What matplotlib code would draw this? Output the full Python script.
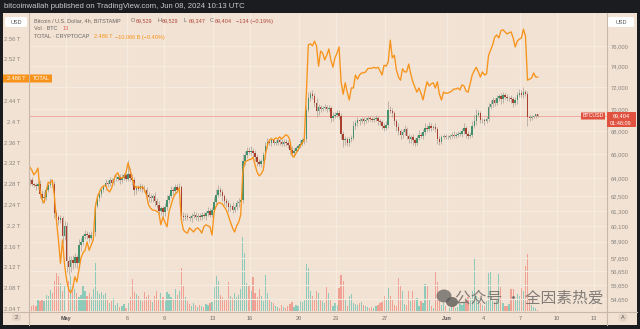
import numpy as np
import matplotlib.pyplot as plt
from matplotlib.patches import Rectangle, FancyBboxPatch, Ellipse
from matplotlib.lines import Line2D

plt.rcParams['font.family'] = ['Liberation Sans', 'DejaVu Sans']

W, H = 640, 329

# BTC/USD 4h closes, one row per day from Apr 28 to Jun 8
btc_close = [
    63800, 63500, 63400, 63300, 63500, 62700,
    62300, 62400, 63000, 63400, 63700, 63500,
    61100, 60800, 60600, 60700, 59300, 60100,
    57400, 57000, 57500, 57300, 57700, 57300,
    58600, 58900, 59300, 59500, 59400, 59200,
    59400, 59600, 61700, 62300, 62700, 63000,
    63200, 63600, 63500, 63800, 63600, 63900,
    63900, 64100, 63800, 64000, 64200, 63900,
    64300, 64000, 63800, 63000, 63200, 63100,
    63300, 63100, 63000, 62600, 62400, 62300,
    62500, 62100, 61800, 61300, 61500, 61200,
    61600, 62200, 62500, 63000, 62900, 63200,
    63000, 63200, 60900, 60800, 60900, 60800,
    60700, 60900, 61000, 60800, 60900, 60800,
    61000, 60900, 61100, 61300, 61000, 61400,
    62000, 62600, 63000, 62800, 62500, 62100,
    61900, 61600, 61700, 61400, 61600, 61900,
    62000, 62200, 65400, 65900, 66300, 66200,
    66300, 66100, 65800, 65300, 65200, 65400,
    65900, 66700, 67100, 67000, 67200, 67000,
    67000, 67200, 67100, 66900, 67100, 67000,
    66800, 66400, 66100, 66300, 66500, 66700,
    66900, 67200, 67300, 69900, 71000, 71400,
    71200, 70600, 69800, 70200, 70000, 70100,
    70200, 70000, 70100, 69200, 69400, 69500,
    69600, 69400, 67800, 67200, 67300, 67000,
    67300, 67400, 68500, 68700, 69000, 68900,
    69100, 68900, 69000, 69200, 69100, 69000,
    69100, 69200, 68900, 68800, 68500, 68300,
    68600, 69900, 69800, 69600, 68900, 68400,
    68000, 67700, 67900, 68200, 67600, 67300,
    67500, 67200, 67000, 67400, 67700, 67600,
    67900, 68300, 68200, 68500, 68300, 68400,
    68200, 67300, 67100, 67500, 67600, 67500,
    67500, 67600, 67700, 67600, 67700, 67800,
    67800, 68000, 68300, 67800, 67600, 67700,
    68500, 68900, 69500, 69600, 69000, 69000,
    68900, 69100, 70200, 70500, 70800, 70600,
    71000, 71200, 70900, 71300, 71100, 71000,
    71000, 70900, 70600, 70800, 71300, 71500,
    71300, 71600, 71400, 69300, 69200, 69300,
    69350, 69529, 69404,
]
first_open = 63600

# wick lengths above / below the body, in hundreds of USD
wick_up = [
    2, 3, 1, 2, 2, 3,  3, 4, 2, 2, 3, 2,  2, 3, 2, 3, 2, 4,  3, 4, 3, 4, 3, 2,
    5, 3, 2, 3, 2, 2,  3, 2, 3, 4, 3, 2,  2, 3, 2, 3, 2, 3,  3, 2, 2, 3, 2, 2,
    12, 5, 3, 3, 2, 2, 3, 2, 3, 2, 2, 3,  2, 3, 2, 3, 2, 2,  3, 4, 2, 3, 2, 3,
    3, 4, 2, 3, 2, 2,  2, 2, 3, 2, 2, 2,  2, 2, 2, 3, 2, 2,  4, 5, 4, 2, 3, 2,
    2, 3, 2, 3, 2, 3,  3, 4, 6, 4, 3, 3,  4, 2, 3, 2, 3, 2,  3, 4, 3, 2, 3, 2,
    2, 3, 2, 2, 2, 2,  2, 2, 3, 2, 2, 2,  3, 2, 2, 4, 6, 3,  4, 3, 4, 3, 2, 2,
    3, 2, 3, 2, 3, 2,  3, 3, 2, 2, 3, 2,  2, 3, 4, 3, 3, 2,  2, 2, 3, 2, 2, 2,
    2, 3, 2, 2, 2, 2,  3, 8, 4, 3, 2, 2,  3, 2, 3, 4, 2, 2,  2, 3, 2, 3, 4, 2,
    3, 4, 3, 3, 2, 2,  3, 2, 3, 2, 2, 2,  2, 2, 2, 3, 2, 2,  2, 3, 4, 2, 2, 2,
    4, 6, 5, 3, 2, 2,  2, 3, 4, 3, 3, 2,  3, 2, 3, 3, 2, 3,  2, 3, 2, 3, 3, 4,
    3, 4, 2, 3, 2, 2,  0, 0, 0,
]
wick_dn = [
    2, 2, 2, 3, 2, 4,  4, 3, 2, 2, 2, 3,  4, 3, 4, 3, 5, 3,  8, 6, 4, 5, 3, 4,
    3, 4, 3, 2, 3, 3,  2, 3, 3, 2, 2, 3,  2, 2, 3, 2, 2, 2,  2, 2, 3, 2, 2, 2,
    2, 3, 4, 4, 3, 2,  2, 3, 2, 3, 4, 3,  3, 4, 3, 5, 3, 4,  3, 2, 3, 2, 3, 2,
    2, 2, 4, 3, 2, 2,  2, 3, 2, 2, 3, 2,  2, 2, 3, 2, 2, 2,  2, 3, 2, 3, 4, 3,
    3, 4, 3, 3, 2, 2,  3, 2, 3, 3, 2, 2,  3, 3, 4, 3, 2, 3,  2, 3, 2, 2, 3, 2,
    2, 2, 3, 2, 2, 3,  3, 4, 3, 2, 2, 2,  2, 2, 3, 2, 2, 3,  3, 4, 5, 3, 3, 2,
    2, 3, 2, 4, 3, 2,  2, 3, 5, 6, 4, 3,  3, 2, 2, 3, 2, 3,  2, 3, 2, 2, 2, 2,
    2, 2, 3, 2, 3, 3,  2, 3, 2, 3, 3, 4,  3, 4, 3, 2, 3, 3,  3, 4, 3, 2, 2, 2,
    3, 2, 3, 2, 3, 2,  3, 4, 3, 2, 2, 2,  2, 2, 2, 2, 2, 2,  2, 3, 2, 4, 3, 2,
    2, 2, 3, 2, 3, 3,  3, 2, 2, 2, 3, 3,  2, 3, 4, 3, 2, 3,  3, 3, 4, 2, 3, 2,
    2, 3, 2, 8, 3, 2,  1, 2, 1,
]

# Bitstamp volume per 4h candle (BTC)
volume = [
    150, 125, 150, 125, 275, 250,  300, 250, 400, 375, 525, 450,
    750, 950, 875, 700, 500, 625,  1050, 750, 875, 625, 550, 450,
    350, 400, 650, 500, 375, 450,  350, 550, 1200, 500, 425, 475,
    400, 450, 300, 200, 250, 325,  150, 200, 100, 125, 175, 75,
    200, 350, 800, 475, 425, 375,  300, 250, 475, 350, 400, 275,
    225, 375, 500, 300, 450, 350,  250, 475, 425, 350, 300, 550,
    400, 500, 1075, 650, 350, 250,  175, 125, 200, 150, 100, 150,
    125, 100, 175, 150, 200, 225,  600, 875, 750, 400, 350, 300,
    275, 725, 375, 325, 450, 350,  400, 550, 1850, 1450, 700, 625,
    500, 850, 450, 350, 550, 375,  250, 900, 450, 300, 225, 200,
    125, 100, 75, 150, 100, 75,  125, 175, 225, 100, 150, 125,
    250, 225, 275, 1175, 1075, 500,  375, 300, 500, 450, 300, 250,
    200, 600, 450, 300, 125, 200,  150, 575, 900, 750, 300, 125,
    375, 425, 200, 175, 150, 200,  225, 150, 125, 100, 75, 100,
    75, 125, 150, 200, 225, 375,  300, 575, 375, 300, 150, 125,
    825, 650, 500, 175, 150, 500,  250, 500, 300, 325, 125, 250,
    200, 675, 650, 300, 125, 75,  1000, 725, 250, 150, 200, 125,
    100, 75, 100, 125, 75, 100,  175, 150, 200, 300, 350, 325,
    500, 1325, 375, 325, 200, 150,  125, 250, 950, 975, 250, 225,
    300, 925, 600, 200, 125, 125,  175, 550, 550, 300, 425, 375,
    575, 500, 1125, 1425, 300, 150,  100, 75, 13,
]

# TOTAL crypto market cap (trillion USD), same 4h steps
total_cap = [
    2.313, 2.307, 2.298, 2.303, 2.311, 2.269,  2.250, 2.244, 2.265, 2.284, 2.282, 2.288,
    2.259, 2.211, 2.173, 2.128, 2.173, 2.125,  2.096, 2.077, 2.071, 2.080, 2.102, 2.092,
    2.115, 2.138, 2.148, 2.153, 2.169, 2.153,  2.163, 2.173, 2.236, 2.255, 2.265, 2.273,
    2.277, 2.278, 2.269, 2.265, 2.273, 2.288,  2.298, 2.302, 2.292, 2.292, 2.294, 2.303,
    2.321, 2.307, 2.292, 2.278, 2.273, 2.275,  2.273, 2.275, 2.269, 2.259, 2.240, 2.234,
    2.230, 2.230, 2.228, 2.225, 2.202, 2.217,  2.207, 2.198, 2.227, 2.240, 2.253, 2.261,
    2.265, 2.273, 2.211, 2.192, 2.188, 2.186,  2.196, 2.192, 2.188, 2.194, 2.196, 2.192,
    2.186, 2.198, 2.202, 2.200, 2.198, 2.182,  2.227, 2.238, 2.244, 2.244, 2.242, 2.236,
    2.230, 2.219, 2.207, 2.196, 2.188, 2.200,  2.207, 2.221, 2.303, 2.323, 2.325, 2.327,
    2.328, 2.332, 2.317, 2.303, 2.296, 2.300,  2.307, 2.336, 2.355, 2.365, 2.367, 2.365,
    2.369, 2.367, 2.371, 2.367, 2.371, 2.375,  2.373, 2.365, 2.336, 2.332, 2.340, 2.346,
    2.353, 2.359, 2.365, 2.452, 2.548, 2.550,  2.546, 2.555, 2.546, 2.507, 2.536, 2.532,
    2.519, 2.528, 2.540, 2.519, 2.505, 2.523,  2.532, 2.544, 2.477, 2.453, 2.475, 2.457,
    2.442, 2.465, 2.465, 2.490, 2.482, 2.490,  2.494, 2.494, 2.496, 2.502, 2.503, 2.503,
    2.505, 2.503, 2.505, 2.498, 2.490, 2.509,  2.507, 2.515, 2.557, 2.523, 2.528, 2.500,
    2.486, 2.480, 2.502, 2.496, 2.496, 2.511,  2.492, 2.477, 2.467, 2.457, 2.465, 2.455,
    2.442, 2.461, 2.477, 2.469, 2.473, 2.475,  2.465, 2.477, 2.453, 2.442, 2.457, 2.455,
    2.455, 2.457, 2.459, 2.463, 2.463, 2.465,  2.461, 2.471, 2.469, 2.459, 2.457, 2.473,
    2.490, 2.498, 2.505, 2.496, 2.486, 2.496,  2.490, 2.492, 2.528, 2.538, 2.548, 2.563,
    2.567, 2.561, 2.575, 2.577, 2.573, 2.569,  2.571, 2.573, 2.561, 2.544, 2.555, 2.559,
    2.561, 2.578, 2.565, 2.480, 2.482, 2.484,  2.494, 2.486, 2.486,
]

date_ticks = [0, 5, 8, 12, 15, 19, 22, 26, 31, 34, 37, 40, 43]
date_labels = ['May', '6', '9', '13', '16', '20', '23', '27', 'Jun', '4', '7', '10', '13']
btc_ticks = [76000, 74000, 72000, 70000, 68000, 66000, 64000, 62500, 61300,
             60100, 58900, 57650, 56650, 55650, 54650]
total_ticks = [2.04, 2.08, 2.12, 2.16, 2.2, 2.24, 2.28, 2.32, 2.36, 2.4, 2.44, 2.52, 2.56]

BG = '#f2e2d3'
DARK = '#1b1c20'
UP, DOWN = '#44926d', '#a9402f'
VUP, VDOWN = '#8ecab9', '#f0a194'
ORANGE = '#f7931a'
RED = '#e0523f'
GRID = '#f6ebe1'
SEP = '#c9b8aa'
LBL = '#8a8580'
FS = 4.0

close = np.array(btc_close, dtype=float)
opn = np.concatenate([[first_open], close[:-1]])
n = len(close)
t = -3 + np.arange(n) / 6 + 1 / 12      # days from May 1, candle centres
high = np.maximum(opn, close) + np.array(wick_up[:n]) * 100
low = np.minimum(opn, close) - np.array(wick_dn[:n]) * 100
rising = close >= opn


def fx(x):
    return x / W


def fy(y):
    return 1 - y / H


fig = plt.figure(figsize=(W / 100, H / 100), dpi=100, facecolor=DARK)
fig.patches.append(Rectangle((fx(3), fy(325)), fx(634), 312 / H,
                             transform=fig.transFigure, facecolor=BG, edgecolor='none', zorder=-5))

rect = [fx(29), fy(311), 578 / W, 298 / H]
ax_vol = fig.add_axes(rect)
ax = ax_vol.twinx()
ax_tot = ax_vol.twinx()
ax_vol.set_zorder(0)
ax.set_zorder(1)
ax_tot.set_zorder(2)
ax_vol.set_facecolor(BG)
ax.patch.set_visible(False)
ax_tot.patch.set_visible(False)
for a in (ax_vol, ax, ax_tot):
    for s in a.spines.values():
        s.set_visible(False)

xlim = ((29 - 65.6) / 12.29, (607 - 65.6) / 12.29)

# volume
ax_vol.bar(t, volume[:n], width=0.1, color=np.where(rising, VUP, VDOWN), linewidth=0)
ax_vol.set_ylim(0, 298 * 25)
ax_vol.set_xlim(*xlim)
ax_vol.set_yticks([])
ax_vol.set_xticks(date_ticks)
ax_vol.set_xticklabels(date_labels)
ax_vol.tick_params(axis='x', length=0, pad=3.5, labelsize=FS, labelcolor='#6f6a66')
for lab in ax_vol.get_xticklabels():
    if lab.get_text() in ('May', 'Jun'):
        lab.set_fontweight('bold')
        lab.set_color('#555050')
ax_vol.grid(axis='x', color=GRID, linewidth=0.9)

# BTC candles
ax.set_yscale('log')
ax.set_ylim(76000 * np.exp(-265 / 767), 76000 * np.exp(33 / 767))
ax.set_xlim(*xlim)
for v in btc_ticks:
    ax.axhline(v, color=GRID, linewidth=0.8, zorder=0)
ax.vlines(t, low, high, color='#a59c93', linewidth=0.6, alpha=0.8, zorder=2)
ax.bar(t, np.maximum(np.abs(close - opn), 25), bottom=np.minimum(opn, close), width=0.12,
       color=np.where(rising, UP, DOWN), linewidth=0, zorder=3)
ax.axhline(close[-1], color='#e8897c', linewidth=0.7, alpha=0.6, zorder=1)
ax.yaxis.set_major_locator(plt.FixedLocator(btc_ticks))
ax.yaxis.set_minor_locator(plt.NullLocator())
ax.set_yticklabels([f'{v:,}' for v in btc_ticks])
ax.tick_params(axis='y', length=0, pad=3, labelsize=FS + 0.2, labelcolor=LBL)

# TOTAL line
ax_tot.plot(t, total_cap[:n], color=ORANGE, linewidth=0.95, zorder=4)
ax_tot.set_ylim(2.04 - 2 * 0.04 / 20.8, 2.04 + 296 * 0.04 / 20.8)
ax_tot.set_xlim(*xlim)
ax_tot.yaxis.tick_left()
ax_tot.set_yticks(total_ticks)
ax_tot.set_yticklabels([f'{v:g} T' for v in total_ticks])
ax_tot.tick_params(axis='y', length=0, pad=6, labelsize=FS + 0.2, labelcolor=LBL)

# separators
for x in (29, 607):
    fig.lines.append(Line2D([fx(x), fx(x)], [fy(13), fy(325)], transform=fig.transFigure,
                            color=SEP, linewidth=0.8))
fig.lines.append(Line2D([fx(3), fx(637)], [fy(311.5), fy(311.5)], transform=fig.transFigure,
                        color=SEP, linewidth=0.8))


def box(x0, y0, x1, y1, color, text_lines=(), tcolor='white', size=4.0, rnd=0.0):
    fig.patches.append(FancyBboxPatch((fx(x0), fy(y1)), (x1 - x0) / W, (y1 - y0) / H,
                                      boxstyle=f'round,pad=0,rounding_size={rnd}',
                                      transform=fig.transFigure, facecolor=color,
                                      edgecolor='none', zorder=5))
    for (tx, ty, s) in text_lines:
        fig.text(fx(tx), fy(ty), s, color=tcolor, fontsize=size, ha='center', va='center', zorder=6)


# header
fig.text(fx(4), fy(6.5), 'bitcoinwallah published on TradingView.com, Jun 08, 2024 10:13 UTC',
         color='#c9c9c9', fontsize=5.6, va='center')

# legend lines
legend_y = [21, 29, 37]
GREY_T = '#6b6560'
fig.text(fx(34), fy(legend_y[0]), 'Bitcoin / U.S. Dollar, 4h, BITSTAMP', color=GREY_T, fontsize=FS, va='center')
for x, k, val in [(131, 'O', '69,529'), (157, 'H', '69,529'), (184, 'L', '69,347'), (210, 'C', '69,404')]:
    fig.text(fx(x), fy(legend_y[0]), k, color=GREY_T, fontsize=FS, va='center')
    fig.text(fx(x + 4.6), fy(legend_y[0]), val, color='#b0473a', fontsize=FS, va='center')
fig.text(fx(236), fy(legend_y[0]), '\u2212134 (\u22120.19%)', color='#b0473a', fontsize=FS, va='center')
fig.text(fx(34), fy(legend_y[1]), 'Vol \u00b7 BTC', color=GREY_T, fontsize=FS, va='center')
fig.text(fx(63), fy(legend_y[1]), '13', color='#e0605a', fontsize=FS, va='center')
fig.text(fx(34), fy(legend_y[2]), 'TOTAL \u00b7 CRYPTOCAP', color=GREY_T, fontsize=FS, va='center')
fig.text(fx(94), fy(legend_y[2]), '2.486 T', color=ORANGE, fontsize=FS, va='center')
fig.text(fx(115), fy(legend_y[2]), '\u221210.066 B (\u22120.40%)', color=ORANGE, fontsize=FS, va='center')

# axis boxes
box(5, 17, 27, 27, 'white', [(16, 22, 'USD')], tcolor='#555555', size=4.0, rnd=0.004)
box(608, 17, 634, 27, 'white', [(621, 22, 'USD')], tcolor='#555555', size=4.0, rnd=0.004)
box(3, 74.5, 29, 82.5, ORANGE, [(16, 78.5, '2.486 T')], size=4.0)
box(30, 74.5, 52, 82.5, ORANGE, [(41, 78.5, 'TOTAL')], size=4.0)
box(581, 112.5, 605, 119.5, RED, [(593, 116, 'BTCUSD')], size=3.8)
box(607, 112, 636, 127, RED, [(621, 116, '69,404'), (621, 123, '01:46:09')], size=4.0)
box(12, 314, 21, 321, '#e4d4c6', [(16.5, 317.5, '2')], tcolor='#555555', size=4.0, rnd=0.006)
fig.patches.append(Ellipse((fx(623), fy(317.5)), 9 / W, 9 / H, transform=fig.transFigure,
                           facecolor='#e4d4c6', edgecolor='none', zorder=5))
fig.text(fx(623), fy(317.5), 'A', color='#555555', fontsize=4.0, ha='center', va='center', zorder=6)

# watermark
fig.patches.append(Ellipse((fx(444), fy(296)), 15 / W, 13 / H, transform=fig.transFigure,
                           facecolor='#6e6a67', edgecolor='none', alpha=0.8, zorder=7))
fig.patches.append(Ellipse((fx(452), fy(302)), 12 / W, 10 / H, transform=fig.transFigure,
                           facecolor='#5e5a57', edgecolor='none', alpha=0.8, zorder=7))
fig.text(fx(455), fy(298), '\u516c\u4f17\u53f7 \u00b7 \u5168\u56e0\u7d20\u70ed\u7231',
         family=['Noto Sans CJK SC', 'DejaVu Sans'], fontsize=11.3, color='#6e6a67',
         alpha=0.85, va='center', zorder=7)

fig.savefig('out.png', dpi=100, facecolor=DARK)
